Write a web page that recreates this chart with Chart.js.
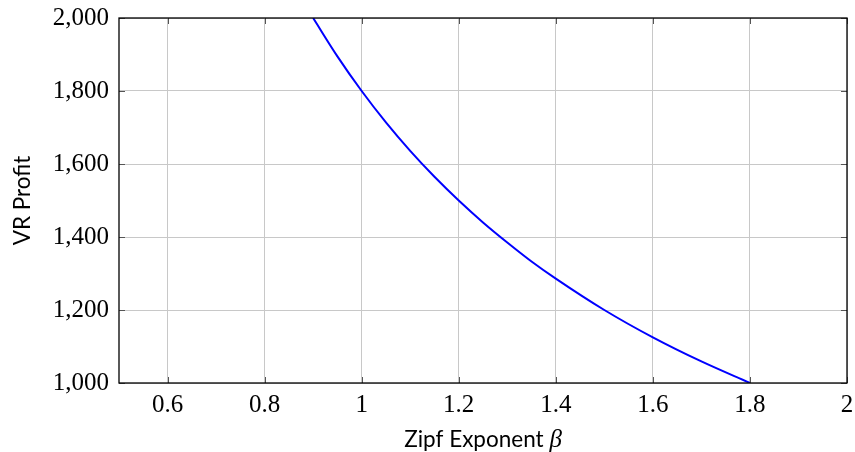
<!DOCTYPE html>
<html>
<head>
<meta charset="utf-8">
<script src="https://cdn.jsdelivr.net/npm/chart.js@4.4.0/dist/chart.umd.min.js"></script>
<style>
  html, body { margin: 0; padding: 0; background: #fff; }
</style>
</head>
<body>
<canvas id="myChart" width="855" height="452"></canvas>
<script>
// values
var betaValues = [0.9, 0.95, 1.0, 1.05, 1.1, 1.15, 1.2, 1.25, 1.3, 1.35, 1.4, 1.5, 1.6, 1.7, 1.8];
var profitValues = [2000, 1895, 1800, 1714, 1636, 1565, 1500, 1440, 1385, 1333, 1286, 1200, 1125, 1059, 1000];
var xTicks = [0.6, 0.8, 1, 1.2, 1.4, 1.6, 1.8, 2];
var yTicks = [1000, 1200, 1400, 1600, 1800, 2000];

var tickFont = { family: 'Liberation Serif', size: 25 };

// frame, inner tick marks and the x axis title (mixed fonts)
var framePlugin = {
    id: 'frame',
    afterDatasetsDraw: function(chart) {
        var c = chart.ctx, a = chart.chartArea;
        var xs = chart.scales.x, ys = chart.scales.y;
        c.save();
        c.strokeStyle = '#555';
        c.lineWidth = 1;
        c.beginPath();
        xTicks.forEach(function(v) {
            var px = Math.round(xs.getPixelForValue(v)) + 0.5;
            c.moveTo(px, a.bottom); c.lineTo(px, a.bottom - 6);
            c.moveTo(px, a.top); c.lineTo(px, a.top + 6);
        });
        yTicks.forEach(function(v) {
            var py = Math.round(ys.getPixelForValue(v)) + 0.5;
            c.moveTo(a.left, py); c.lineTo(a.left + 6, py);
            c.moveTo(a.right, py); c.lineTo(a.right - 6, py);
        });
        c.stroke();
        c.strokeStyle = '#000';
        c.lineWidth = 1.3;
        c.strokeRect(a.left, a.top, a.right - a.left, a.bottom - a.top);

        // x title
        var t1 = 'Zipf Exponent ', t2 = '\u03B2';
        c.fillStyle = '#000';
        c.textBaseline = 'alphabetic';
        c.textAlign = 'left';
        c.font = '22.5px Lato';
        var w1 = c.measureText(t1).width;
        c.font = 'italic 25px "Liberation Serif"';
        var w2 = c.measureText(t2).width;
        var x0 = (a.left + a.right) / 2 - (w1 + w2) / 2;
        c.font = '22.5px Lato';
        c.fillText(t1, x0, 447);
        c.font = 'italic 25px "Liberation Serif"';
        c.fillText(t2, x0 + w1, 447);
        c.restore();
    }
};

var ctx = document.getElementById('myChart').getContext('2d');
var myChart = new Chart(ctx, {
    type: 'line',
    data: {
        datasets: [{
            label: 'VR Profit',
            data: betaValues.map(function(b, i) { return { x: b, y: profitValues[i] }; }),
            borderColor: '#0000ff',
            borderWidth: 2,
            pointRadius: 0,
            cubicInterpolationMode: 'monotone',
            fill: false
        }]
    },
    options: {
        responsive: false,
        animation: false,
        devicePixelRatio: 1,
        layout: { padding: { top: 18, right: 8, left: 0, bottom: 0 } },
        plugins: {
            legend: { display: false },
            tooltip: { enabled: false }
        },
        scales: {
            x: {
                type: 'linear',
                min: 0.5,
                max: 2,
                afterBuildTicks: function(scale) {
                    scale.ticks = xTicks.map(function(v) { return { value: v }; });
                },
                afterFit: function(scale) {
                    scale.height = 69;
                    scale.paddingLeft = 0;
                    scale.paddingRight = 0;
                },
                grid: { color: '#c8c8c8', lineWidth: 1, drawTicks: false },
                border: { display: false },
                ticks: {
                    font: tickFont,
                    color: '#000',
                    padding: 7,
                    maxRotation: 0,
                    callback: function(v) { return String(Math.round(v * 10) / 10); }
                }
            },
            y: {
                min: 1000,
                max: 2000,
                afterBuildTicks: function(scale) {
                    scale.ticks = yTicks.map(function(v) { return { value: v }; });
                },
                afterFit: function(scale) {
                    scale.width = 119;
                    scale.paddingTop = 0;
                    scale.paddingBottom = 0;
                },
                grid: { color: '#c8c8c8', lineWidth: 1, drawTicks: false },
                border: { display: false },
                ticks: {
                    font: tickFont,
                    color: '#000',
                    padding: 10,
                    callback: function(v) { return v.toLocaleString('en-US'); }
                },
                title: {
                    display: true,
                    text: 'VR Profit',
                    font: { family: 'Lato', size: 22.5 },
                    color: '#000',
                    padding: { top: 9, bottom: 0 }
                }
            }
        }
    },
    plugins: [framePlugin]
});
</script>
</body>
</html>
